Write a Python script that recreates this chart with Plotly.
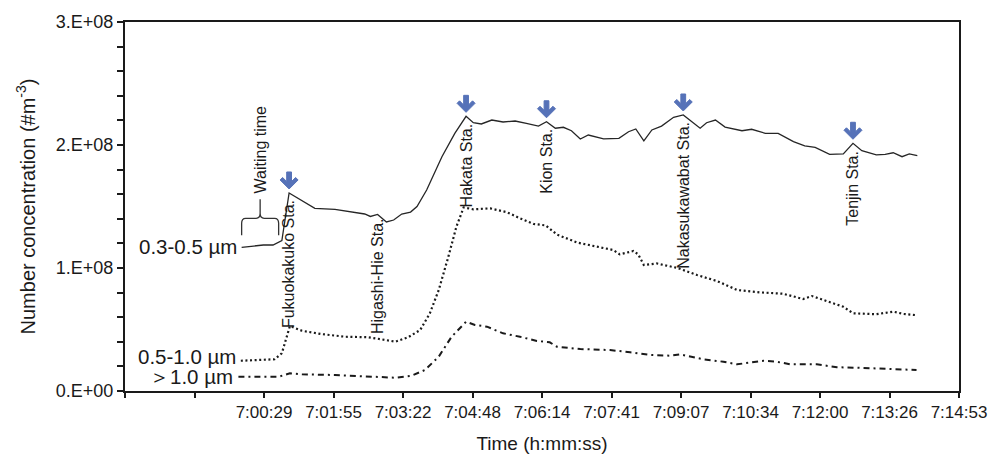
import plotly.graph_objects as go

# ---- data -------------------------------------------------------------
# particle number concentration (# m^-3) along the subway ride
t_fine = ["7:00:01", "7:00:28", "7:00:40", "7:00:51", "7:01:00", "7:01:32", "7:01:57",
          "7:02:10", "7:02:22", "7:02:34", "7:02:41", "7:02:50", "7:03:01", "7:03:10",
          "7:03:20", "7:03:31", "7:03:39", "7:03:51", "7:04:10", "7:04:26", "7:04:40",
          "7:04:49", "7:04:59", "7:05:12", "7:05:26", "7:05:41", "7:05:55", "7:06:10",
          "7:06:20", "7:06:31", "7:06:41", "7:06:51", "7:07:02", "7:07:12", "7:07:31",
          "7:07:50", "7:08:02", "7:08:11", "7:08:21", "7:08:31", "7:08:43", "7:08:58",
          "7:09:10", "7:09:21", "7:09:31", "7:09:39", "7:09:50", "7:10:02", "7:10:23",
          "7:10:35", "7:10:52", "7:11:08", "7:11:27", "7:11:41", "7:11:54", "7:12:12",
          "7:12:29", "7:12:41", "7:12:52", "7:13:10", "7:13:21", "7:13:31", "7:13:42",
          "7:13:51", "7:14:01"]
n_fine = [1.168e8, 1.187e8, 1.187e8, 1.222e8, 1.610e8, 1.485e8, 1.476e8,
          1.463e8, 1.447e8, 1.439e8, 1.419e8, 1.435e8, 1.374e8, 1.390e8,
          1.439e8, 1.455e8, 1.500e8, 1.634e8, 1.905e8, 2.095e8, 2.233e8,
          2.181e8, 2.171e8, 2.203e8, 2.187e8, 2.195e8, 2.176e8, 2.154e8,
          2.189e8, 2.136e8, 2.144e8, 2.116e8, 2.049e8, 2.081e8, 2.049e8,
          2.054e8, 2.108e8, 2.130e8, 2.033e8, 2.122e8, 2.154e8, 2.225e8,
          2.244e8, 2.189e8, 2.136e8, 2.181e8, 2.203e8, 2.146e8, 2.116e8,
          2.128e8, 2.095e8, 2.095e8, 2.027e8, 1.992e8, 1.981e8, 1.924e8,
          1.927e8, 2.014e8, 1.954e8, 1.919e8, 1.924e8, 1.937e8, 1.905e8,
          1.927e8, 1.913e8]

t_mid = ["7:00:00", "7:00:42", "7:00:51", "7:01:01", "7:01:16", "7:01:40", "7:02:10",
         "7:02:38", "7:02:55", "7:03:12", "7:03:28", "7:03:43", "7:03:55", "7:04:06",
         "7:04:18", "7:04:28", "7:04:37", "7:04:49", "7:05:10", "7:05:31", "7:05:47",
         "7:06:04", "7:06:19", "7:06:33", "7:06:58", "7:07:27", "7:07:43", "7:07:51",
         "7:08:08", "7:08:14", "7:08:21", "7:08:37", "7:09:03", "7:09:27", "7:09:52",
         "7:10:17", "7:10:45", "7:11:14", "7:11:39", "7:11:50", "7:12:12", "7:12:29",
         "7:12:41", "7:13:10", "7:13:31", "7:13:44", "7:13:58"]
n_mid = [0.246e8, 0.258e8, 0.307e8, 0.528e8, 0.490e8, 0.463e8, 0.441e8,
         0.437e8, 0.420e8, 0.401e8, 0.437e8, 0.496e8, 0.632e8, 0.821e8,
         1.092e8, 1.336e8, 1.492e8, 1.477e8, 1.485e8, 1.453e8, 1.404e8,
         1.358e8, 1.346e8, 1.272e8, 1.207e8, 1.165e8, 1.146e8, 1.111e8,
         1.138e8, 1.111e8, 1.024e8, 1.037e8, 1.000e8, 0.943e8, 0.894e8,
         0.821e8, 0.802e8, 0.791e8, 0.748e8, 0.772e8, 0.726e8, 0.685e8,
         0.632e8, 0.624e8, 0.645e8, 0.626e8, 0.618e8]

t_coarse = ["6:59:57", "7:00:47", "7:01:01", "7:01:16", "7:01:57", "7:02:38", "7:03:12",
            "7:03:32", "7:03:49", "7:04:06", "7:04:22", "7:04:40", "7:04:51", "7:05:06",
            "7:05:26", "7:05:47", "7:06:08", "7:06:24", "7:06:33", "7:07:02", "7:07:39",
            "7:08:04", "7:08:29", "7:08:54", "7:09:06", "7:09:35", "7:10:00", "7:10:17",
            "7:10:50", "7:11:06", "7:11:23", "7:11:56", "7:12:21", "7:12:46", "7:13:10",
            "7:13:35", "7:14:00"]
n_coarse = [0.116e8, 0.116e8, 0.144e8, 0.136e8, 0.130e8, 0.116e8, 0.108e8,
            0.124e8, 0.171e8, 0.279e8, 0.441e8, 0.563e8, 0.537e8, 0.523e8,
            0.469e8, 0.441e8, 0.407e8, 0.396e8, 0.360e8, 0.341e8, 0.333e8,
            0.315e8, 0.293e8, 0.287e8, 0.298e8, 0.258e8, 0.238e8, 0.217e8,
            0.246e8, 0.238e8, 0.217e8, 0.217e8, 0.193e8, 0.189e8, 0.185e8,
            0.179e8, 0.171e8]

series_names = ["0.3-0.5 µm", "0.5-1.0 µm", "＞1.0 µm"]

stations = ["Fukuokakuko Sta.", "Higashi-Hie Sta.", "Hakata Sta.", "Kion Sta.",
            "Nakasukawabat Sta.", "Tenjin Sta."]
station_times = ["7:01:00", "7:02:50", "7:04:40", "7:06:20", "7:09:10", "7:12:41"]
arrow_stations = ["Fukuokakuko Sta.", "Hakata Sta.", "Kion Sta.",
                  "Nakasukawabat Sta.", "Tenjin Sta."]

# waiting period before the train leaves (start and end of the brace)
waiting_span = ["7:00:01", "7:00:47"]

# time axis: one tick every 0.001 day
tick_days = [0.290, 0.291, 0.292, 0.293, 0.294, 0.295, 0.296,
             0.297, 0.298, 0.299, 0.300, 0.301, 0.302]
tick_labels = ["", "", "7:00:29", "7:01:55", "7:03:22", "7:04:48", "7:06:14",
               "7:07:41", "7:09:07", "7:10:34", "7:12:00", "7:13:26", "7:14:53"]

y_ticks = [0, 1e8, 2e8, 3e8]
y_tick_labels = ["0.E+00", "1.E+08", "2.E+08", "3.E+08"]


def to_sec(s):
    h, m, sec = (int(v) for v in s.split(":"))
    return h * 3600 + m * 60 + sec


x_fine = [to_sec(s) for s in t_fine]
x_mid = [to_sec(s) for s in t_mid]
x_coarse = [to_sec(s) for s in t_coarse]
tick_secs = [d * 86400 for d in tick_days]

FONT = "Liberation Sans, Arial, Helvetica, sans-serif"
INK = "#1a1a1a"
ARROW = "#5672b8"

fig = go.Figure()
fig.add_trace(go.Scatter(x=x_fine, y=n_fine, mode="lines", name=series_names[0],
                         line=dict(color="#262626", width=1.3)))
fig.add_trace(go.Scatter(x=x_mid, y=n_mid, mode="lines", name=series_names[1],
                         line=dict(color=INK, width=2.2, dash="2px,2.6px")))
fig.add_trace(go.Scatter(x=x_coarse, y=n_coarse, mode="lines", name=series_names[2],
                         line=dict(color=INK, width=2, dash="6px,4px,2px,4px")))

annotations = []
shapes = []

# series labels at the start of each curve
for xs, ys, name, dy in [(x_fine, n_fine, series_names[0], 1),
                         (x_mid, n_mid, series_names[1], 4),
                         (x_coarse, n_coarse, series_names[2], 0)]:
    annotations.append(dict(x=xs[0], y=ys[0], text=name, showarrow=False,
                            xanchor="right", yanchor="middle", xshift=-3, yshift=dy,
                            font=dict(family=FONT, size=20.5, color=INK)))

# station labels (vertical) and arrows
lookup = dict(zip(x_fine, n_fine))
for name, ts in zip(stations, station_times):
    xs = to_sec(ts)
    ys = lookup[xs]
    shift = -2 if name == "Higashi-Hie Sta." else -5
    annotations.append(dict(x=xs, y=ys, text=name, showarrow=False, textangle=-90,
                            xanchor="center", yanchor="top", yshift=shift,
                            font=dict(family=FONT, size=16, color=INK)))
    if name in arrow_stations:
        shapes.append(dict(
            type="path", xref="x", yref="y",
            xsizemode="pixel", ysizemode="pixel", xanchor=xs, yanchor=ys,
            path=("M 0 4 L -9 13 L -6.5 15.5 L -2.4 11.4 L -2.4 21 L 2.4 21 "
                  "L 2.4 11.4 L 6.5 15.5 L 9 13 Z"),
            fillcolor=ARROW, line=dict(color=ARROW, width=1)))

# curly brace over the waiting period
xl, xr = to_sec(waiting_span[0]), to_sec(waiting_span[1])
xm = (xl + xr) / 2
r = 5
brace = (f"M {xl} 12 L {xl} 24 Q {xl} 29 {xl + r} 29 L {xm - r} 29 "
         f"Q {xm} 29 {xm} 34 L {xm} 48 M {xm} 34 Q {xm} 29 {xm + r} 29 "
         f"L {xr - r} 29 Q {xr} 29 {xr} 24 L {xr} 12")
y_anchor = n_fine[0]
shapes.append(dict(type="path", xref="x", yref="y", ysizemode="pixel",
                   yanchor=y_anchor, path=brace,
                   line=dict(color="#333333", width=1.3)))
annotations.append(dict(x=xm, y=y_anchor, text="Waiting time", showarrow=False,
                        textangle=-90, xanchor="center", yanchor="bottom", yshift=52,
                        font=dict(family=FONT, size=16, color=INK)))

fig.update_layout(
    width=993, height=455, autosize=False,
    margin=dict(l=125, r=34, t=22, b=64),
    paper_bgcolor="white", plot_bgcolor="white",
    showlegend=False,
    font=dict(family=FONT, color=INK),
    annotations=annotations, shapes=shapes,
    xaxis=dict(
        range=[tick_secs[0], tick_secs[-1]], automargin=False,
        tickmode="array", tickvals=tick_secs, ticktext=tick_labels,
        ticks="outside", ticklen=5, tickwidth=1.5, tickcolor=INK,
        showline=True, linecolor=INK, linewidth=2, mirror=True,
        showgrid=False, zeroline=False,
        tickfont=dict(family=FONT, size=17, color=INK),
        title=dict(text="Time (h:mm:ss)",
                   font=dict(family=FONT, size=19, color=INK)),
    ),
    yaxis=dict(
        range=[0, 3e8], automargin=False,
        tickmode="array", tickvals=y_ticks, ticktext=y_tick_labels,
        ticks="outside", ticklen=6, tickwidth=1.5, tickcolor=INK,
        minor=dict(dtick=0.2e8, ticks="outside", ticklen=6, tickwidth=1.5,
                   tickcolor=INK, showgrid=False),
        showline=True, linecolor=INK, linewidth=2, mirror=True,
        showgrid=False, zeroline=False,
        tickfont=dict(family=FONT, size=18, color=INK),
        title=dict(text="Number concentration (#m<sup>-3</sup>)",
                   font=dict(family=FONT, size=20, color=INK)),
    ),
)

fig.write_html("out.html")
